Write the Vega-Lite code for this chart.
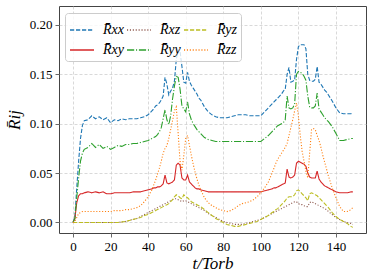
{
"$schema":"https://vega.github.io/schema/vega-lite/v6.json",
"width":307,"height":227,
"autosize":{"type":"none"},
"padding":{"left":59,"top":6,"right":8,"bottom":47},
"data":{"values":[
{"t":0,"xx":0,"xy":0,"xz":0,"yy":0,"yz":0,"zz":0},
{"t":1,"xx":0.005,"xy":0.004,"xz":0,"yy":0.004,"yz":0,"zz":0.001},
{"t":2,"xx":0.035,"xy":0.020,"xz":0,"yy":0.025,"yz":0,"zz":0.005},
{"t":3,"xx":0.062,"xy":0.027,"xz":0,"yy":0.045,"yz":0,"zz":0.009},
{"t":4,"xx":0.085,"xy":0.029,"xz":0,"yy":0.062,"yz":0,"zz":0.010},
{"t":5,"xx":0.098,"xy":0.029,"xz":0,"yy":0.070,"yz":0,"zz":0.011},
{"t":6,"xx":0.103,"xy":0.030,"xz":0,"yy":0.074,"yz":0,"zz":0.011},
{"t":8,"xx":0.104,"xy":0.031,"xz":0,"yy":0.076,"yz":0,"zz":0.011},
{"t":10,"xx":0.108,"xy":0.030,"xz":0,"yy":0.080,"yz":0,"zz":0.011},
{"t":12,"xx":0.105,"xy":0.031,"xz":0,"yy":0.076,"yz":0,"zz":0.011},
{"t":14,"xx":0.107,"xy":0.030,"xz":0,"yy":0.079,"yz":0,"zz":0.011},
{"t":16,"xx":0.104,"xy":0.031,"xz":0,"yy":0.075,"yz":0,"zz":0.011},
{"t":18,"xx":0.106,"xy":0.029,"xz":0,"yy":0.077,"yz":0,"zz":0.011},
{"t":20,"xx":0.101,"xy":0.029,"xz":0,"yy":0.074,"yz":0,"zz":0.011},
{"t":22,"xx":0.104,"xy":0.030,"xz":0,"yy":0.076,"yz":0,"zz":0.012},
{"t":24,"xx":0.103,"xy":0.030,"xz":0,"yy":0.078,"yz":0,"zz":0.012},
{"t":26,"xx":0.105,"xy":0.030,"xz":0.0005,"yy":0.077,"yz":0.0005,"zz":0.012},
{"t":28,"xx":0.104,"xy":0.030,"xz":0.001,"yy":0.079,"yz":0.001,"zz":0.013},
{"t":30,"xx":0.105,"xy":0.030,"xz":0.002,"yy":0.079,"yz":0.002,"zz":0.013},
{"t":32,"xx":0.105,"xy":0.031,"xz":0.003,"yy":0.080,"yz":0.003,"zz":0.014},
{"t":34,"xx":0.105,"xy":0.031,"xz":0.004,"yy":0.080,"yz":0.004,"zz":0.015},
{"t":36,"xx":0.106,"xy":0.031,"xz":0.006,"yy":0.081,"yz":0.005,"zz":0.017},
{"t":38,"xx":0.107,"xy":0.032,"xz":0.008,"yy":0.082,"yz":0.007,"zz":0.021},
{"t":40,"xx":0.109,"xy":0.033,"xz":0.010,"yy":0.083,"yz":0.008,"zz":0.026},
{"t":42,"xx":0.113,"xy":0.034,"xz":0.012,"yy":0.085,"yz":0.010,"zz":0.033},
{"t":43,"xx":0.115,"xy":0.035,"xz":0.013,"yy":0.086,"yz":0.011,"zz":0.038},
{"t":44,"xx":0.118,"xy":0.035,"xz":0.014,"yy":0.087,"yz":0.012,"zz":0.043},
{"t":45,"xx":0.119,"xy":0.036,"xz":0.015,"yy":0.089,"yz":0.013,"zz":0.049},
{"t":46,"xx":0.121,"xy":0.036,"xz":0.016,"yy":0.092,"yz":0.014,"zz":0.055},
{"t":47,"xx":0.124,"xy":0.037,"xz":0.017,"yy":0.096,"yz":0.015,"zz":0.062},
{"t":48,"xx":0.128,"xy":0.039,"xz":0.018,"yy":0.105,"yz":0.016,"zz":0.070},
{"t":49,"xx":0.147,"xy":0.048,"xz":0.019,"yy":0.114,"yz":0.017,"zz":0.075},
{"t":50,"xx":0.140,"xy":0.040,"xz":0.020,"yy":0.104,"yz":0.018,"zz":0.078},
{"t":51,"xx":0.129,"xy":0.039,"xz":0.021,"yy":0.099,"yz":0.019,"zz":0.085},
{"t":52,"xx":0.133,"xy":0.040,"xz":0.022,"yy":0.108,"yz":0.021,"zz":0.094},
{"t":53,"xx":0.136,"xy":0.041,"xz":0.023,"yy":0.125,"yz":0.023,"zz":0.103},
{"t":54,"xx":0.143,"xy":0.043,"xz":0.024,"yy":0.138,"yz":0.026,"zz":0.113},
{"t":55,"xx":0.165,"xy":0.058,"xz":0.024,"yy":0.148,"yz":0.028,"zz":0.117},
{"t":56,"xx":0.175,"xy":0.060,"xz":0.023,"yy":0.147,"yz":0.027,"zz":0.090},
{"t":57,"xx":0.173,"xy":0.058,"xz":0.022,"yy":0.135,"yz":0.025,"zz":0.062},
{"t":58,"xx":0.158,"xy":0.045,"xz":0.021,"yy":0.118,"yz":0.024,"zz":0.053},
{"t":59,"xx":0.142,"xy":0.043,"xz":0.022,"yy":0.115,"yz":0.028,"zz":0.068},
{"t":60,"xx":0.141,"xy":0.043,"xz":0.022,"yy":0.112,"yz":0.026,"zz":0.085},
{"t":61,"xx":0.152,"xy":0.048,"xz":0.021,"yy":0.122,"yz":0.025,"zz":0.088},
{"t":62,"xx":0.143,"xy":0.041,"xz":0.020,"yy":0.110,"yz":0.023,"zz":0.078},
{"t":63,"xx":0.139,"xy":0.039,"xz":0.019,"yy":0.104,"yz":0.021,"zz":0.068},
{"t":64,"xx":0.136,"xy":0.037,"xz":0.018,"yy":0.100,"yz":0.020,"zz":0.059},
{"t":65,"xx":0.133,"xy":0.035,"xz":0.017,"yy":0.097,"yz":0.019,"zz":0.051},
{"t":66,"xx":0.130,"xy":0.034,"xz":0.016,"yy":0.094,"yz":0.018,"zz":0.044},
{"t":67,"xx":0.126,"xy":0.034,"xz":0.015,"yy":0.092,"yz":0.017,"zz":0.038},
{"t":68,"xx":0.124,"xy":0.033,"xz":0.014,"yy":0.090,"yz":0.016,"zz":0.033},
{"t":70,"xx":0.117,"xy":0.032,"xz":0.012,"yy":0.086,"yz":0.013,"zz":0.025},
{"t":72,"xx":0.112,"xy":0.031,"xz":0.009,"yy":0.084,"yz":0.010,"zz":0.020},
{"t":74,"xx":0.109,"xy":0.031,"xz":0.007,"yy":0.083,"yz":0.007,"zz":0.017},
{"t":76,"xx":0.107,"xy":0.031,"xz":0.005,"yy":0.082,"yz":0.004,"zz":0.015},
{"t":78,"xx":0.106,"xy":0.031,"xz":0.003,"yy":0.082,"yz":0.002,"zz":0.013},
{"t":80,"xx":0.106,"xy":0.031,"xz":0.001,"yy":0.082,"yz":0.000,"zz":0.012},
{"t":82,"xx":0.106,"xy":0.031,"xz":0.000,"yy":0.082,"yz":-0.002,"zz":0.011},
{"t":84,"xx":0.107,"xy":0.031,"xz":-0.001,"yy":0.082,"yz":-0.003,"zz":0.012},
{"t":86,"xx":0.108,"xy":0.031,"xz":-0.002,"yy":0.082,"yz":-0.004,"zz":0.014},
{"t":88,"xx":0.109,"xy":0.031,"xz":-0.002,"yy":0.082,"yz":-0.004,"zz":0.017},
{"t":90,"xx":0.109,"xy":0.031,"xz":-0.002,"yy":0.082,"yz":-0.003,"zz":0.019},
{"t":92,"xx":0.109,"xy":0.031,"xz":-0.001,"yy":0.082,"yz":-0.002,"zz":0.020},
{"t":94,"xx":0.108,"xy":0.031,"xz":0.000,"yy":0.082,"yz":-0.001,"zz":0.021},
{"t":96,"xx":0.108,"xy":0.031,"xz":0.001,"yy":0.082,"yz":0.000,"zz":0.023},
{"t":98,"xx":0.108,"xy":0.031,"xz":0.002,"yy":0.082,"yz":0.001,"zz":0.026},
{"t":100,"xx":0.108,"xy":0.031,"xz":0.003,"yy":0.082,"yz":0.003,"zz":0.030},
{"t":102,"xx":0.112,"xy":0.032,"xz":0.005,"yy":0.085,"yz":0.005,"zz":0.035},
{"t":104,"xx":0.116,"xy":0.033,"xz":0.007,"yy":0.088,"yz":0.007,"zz":0.041},
{"t":106,"xx":0.120,"xy":0.034,"xz":0.009,"yy":0.092,"yz":0.010,"zz":0.050},
{"t":107,"xx":0.122,"xy":0.035,"xz":0.010,"yy":0.094,"yz":0.011,"zz":0.055},
{"t":108,"xx":0.124,"xy":0.035,"xz":0.011,"yy":0.096,"yz":0.013,"zz":0.060},
{"t":109,"xx":0.126,"xy":0.036,"xz":0.012,"yy":0.098,"yz":0.014,"zz":0.064},
{"t":110,"xx":0.128,"xy":0.037,"xz":0.013,"yy":0.099,"yz":0.016,"zz":0.067},
{"t":111,"xx":0.130,"xy":0.038,"xz":0.014,"yy":0.100,"yz":0.018,"zz":0.070},
{"t":112,"xx":0.133,"xy":0.039,"xz":0.015,"yy":0.101,"yz":0.020,"zz":0.073},
{"t":113,"xx":0.135,"xy":0.040,"xz":0.016,"yy":0.104,"yz":0.022,"zz":0.076},
{"t":114,"xx":0.150,"xy":0.054,"xz":0.017,"yy":0.128,"yz":0.025,"zz":0.080},
{"t":115,"xx":0.157,"xy":0.046,"xz":0.018,"yy":0.116,"yz":0.026,"zz":0.088},
{"t":116,"xx":0.142,"xy":0.045,"xz":0.019,"yy":0.115,"yz":0.026,"zz":0.096},
{"t":117,"xx":0.143,"xy":0.046,"xz":0.020,"yy":0.116,"yz":0.026,"zz":0.104},
{"t":118,"xx":0.144,"xy":0.048,"xz":0.021,"yy":0.120,"yz":0.028,"zz":0.113},
{"t":119,"xx":0.165,"xy":0.060,"xz":0.021,"yy":0.150,"yz":0.032,"zz":0.121},
{"t":120,"xx":0.178,"xy":0.062,"xz":0.019,"yy":0.153,"yz":0.033,"zz":0.108},
{"t":121,"xx":0.180,"xy":0.061,"xz":0.018,"yy":0.152,"yz":0.031,"zz":0.088},
{"t":122,"xx":0.180,"xy":0.060,"xz":0.018,"yy":0.151,"yz":0.029,"zz":0.072},
{"t":123,"xx":0.180,"xy":0.059,"xz":0.017,"yy":0.148,"yz":0.027,"zz":0.062},
{"t":124,"xx":0.176,"xy":0.057,"xz":0.016,"yy":0.144,"yz":0.025,"zz":0.052},
{"t":125,"xx":0.150,"xy":0.050,"xz":0.016,"yy":0.128,"yz":0.022,"zz":0.045},
{"t":126,"xx":0.144,"xy":0.046,"xz":0.020,"yy":0.117,"yz":0.029,"zz":0.070},
{"t":127,"xx":0.143,"xy":0.045,"xz":0.021,"yy":0.116,"yz":0.030,"zz":0.094},
{"t":128,"xx":0.143,"xy":0.045,"xz":0.020,"yy":0.116,"yz":0.029,"zz":0.095},
{"t":129,"xx":0.145,"xy":0.045,"xz":0.019,"yy":0.118,"yz":0.028,"zz":0.094},
{"t":130,"xx":0.158,"xy":0.052,"xz":0.018,"yy":0.131,"yz":0.027,"zz":0.088},
{"t":131,"xx":0.142,"xy":0.044,"xz":0.017,"yy":0.115,"yz":0.025,"zz":0.083},
{"t":132,"xx":0.140,"xy":0.041,"xz":0.016,"yy":0.112,"yz":0.023,"zz":0.076},
{"t":133,"xx":0.137,"xy":0.039,"xz":0.015,"yy":0.109,"yz":0.021,"zz":0.068},
{"t":134,"xx":0.134,"xy":0.037,"xz":0.014,"yy":0.106,"yz":0.019,"zz":0.061},
{"t":135,"xx":0.132,"xy":0.036,"xz":0.013,"yy":0.104,"yz":0.017,"zz":0.054},
{"t":136,"xx":0.129,"xy":0.035,"xz":0.011,"yy":0.102,"yz":0.015,"zz":0.047},
{"t":138,"xx":0.123,"xy":0.033,"xz":0.008,"yy":0.097,"yz":0.010,"zz":0.035},
{"t":140,"xx":0.116,"xy":0.031,"xz":0.005,"yy":0.090,"yz":0.006,"zz":0.025},
{"t":142,"xx":0.111,"xy":0.030,"xz":0.003,"yy":0.083,"yz":0.003,"zz":0.016},
{"t":144,"xx":0.110,"xy":0.030,"xz":0.001,"yy":0.083,"yz":0.001,"zz":0.011},
{"t":146,"xx":0.110,"xy":0.030,"xz":0.000,"yy":0.084,"yz":-0.001,"zz":0.011},
{"t":148,"xx":0.110,"xy":0.031,"xz":-0.001,"yy":0.085,"yz":-0.004,"zz":0.013},
{"t":149,"xx":0.111,"xy":0.031,"xz":-0.002,"yy":0.085,"yz":-0.005,"zz":0.015}
]},
"transform":[{"fold":["xx","xy","xz","yy","yz","zz"],"as":["s","v"]}],
"mark":{"type":"line","strokeWidth":1.1,"clip":true},
"encoding":{
"x":{"field":"t","type":"quantitative","scale":{"domain":[-7.45,156],"nice":false,"zero":false},"axis":{"values":[0,20,40,60,80,100,120,140],"title":"t/Torb"}},
"y":{"field":"v","type":"quantitative","scale":{"domain":[-0.0107,0.2192],"nice":false,"zero":false},"axis":{"values":[0,0.05,0.1,0.15,0.2],"format":".2f","title":"R̄ij"}},
"color":{"field":"s","type":"nominal","scale":{"domain":["xx","xy","xz","yy","yz","zz"],"range":["#1f77b4","#d62728","#8c564b","#2ca02c","#bcbd22","#ff7f0e"]},"legend":{"title":null,"labelExpr":"'R̄' + datum.label"}},
"strokeDash":{"field":"s","type":"nominal","scale":{"domain":["xx","xy","xz","yy","yz","zz"],"range":[[4.2,1.8],[1,0],[1.1,1.8],[7.2,1.8,1.1,1.8],[4.2,1.8],[1.1,1.8]]},"legend":{"title":null,"labelExpr":"'R̄' + datum.label"}}
},
"config":{
"font":"Liberation Serif, DejaVu Serif, serif",
"view":{"stroke":"#444","strokeWidth":1},
"axis":{"labelFont":"Liberation Serif, DejaVu Serif, serif","labelFontSize":13,"labelColor":"#000","titleFont":"Liberation Serif, DejaVu Serif, serif","titleFontSize":17,"titleFontStyle":"italic","titleFontWeight":"normal","titleColor":"#000","domain":false,"tickColor":"#444","tickSize":4,"tickWidth":0.8,"gridColor":"#c8c8c8","gridDash":[3,2],"gridWidth":0.7,"labelPadding":3},
"axisX":{"titlePadding":2},
"axisY":{"titlePadding":6},
"legend":{"orient":"none","legendX":6,"legendY":7,"columns":3,"symbolType":"stroke","symbolSize":576,"symbolStrokeWidth":1.5,"labelFont":"Liberation Serif, DejaVu Serif, serif","labelFontStyle":"italic","labelFontSize":14,"labelColor":"#000","labelOffset":8,"columnPadding":0,"rowPadding":0,"padding":4,"fillColor":"rgba(255,255,255,0.8)","strokeColor":"#cccccc","cornerRadius":3}
}
}
